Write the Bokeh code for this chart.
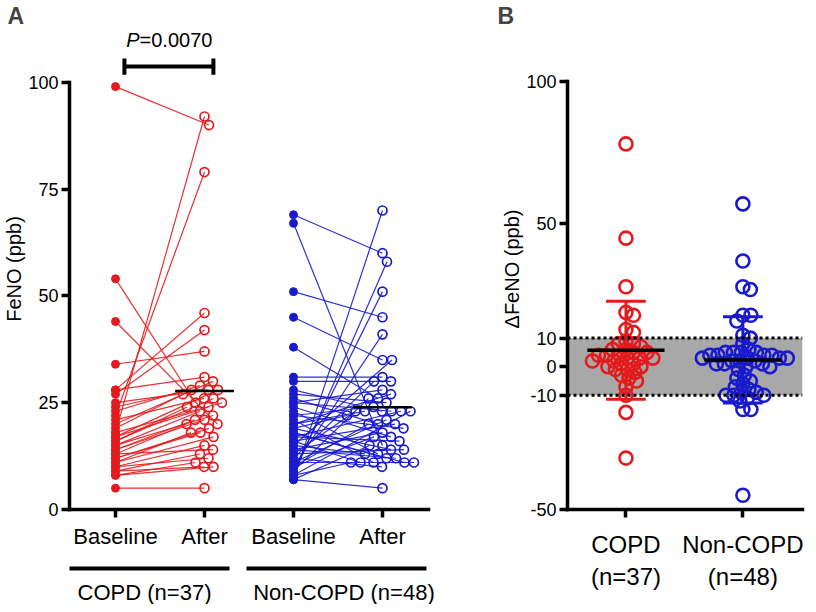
import numpy as np
from bokeh.plotting import figure
from bokeh.models import Range1d, FixedTicker, BoxAnnotation, Span
from bokeh.layouts import row, column
from bokeh.core.properties import value
from bokeh.embed import file_html
from bokeh.resources import INLINE

FONT = "Liberation Sans"
RED = "#e41a1c"
BLUE = "#1a1acd"

# ---------------- data ----------------
time_labels = ["Baseline", "After", "Baseline", "After"]
group_labels_A = ["COPD (n=37)", "Non-COPD (n=48)"]
copd_baseline = [99, 54, 44, 34, 28, 28, 27, 25, 24, 23, 22, 21, 20, 19, 18, 18, 17, 17, 16, 16,
                 15, 15, 14, 14, 13, 13, 12, 12, 11, 11, 10, 10, 9, 9, 8, 8, 5]
copd_after = [90, 25, 20, 37, 46, 31, 42, 28, 28, 29, 79, 26, 30, 27, 92, 25, 28, 24, 26, 24,
              23, 22, 21, 21, 14, 20, 19, 18, 18, 17, 12, 15, 10, 13, 10, 11, 5]
noncopd_baseline = [69, 67, 51, 45, 38, 31, 30, 28, 27, 26, 25, 25, 24, 23, 22, 22, 21, 20, 20, 19,
                    19, 18, 18, 17, 17, 16, 16, 15, 15, 14, 14, 13, 13, 12, 12, 11, 11, 10, 10, 10,
                    9, 9, 8, 8, 8, 7, 7, 7]
noncopd_after = [60, 15, 45, 35, 26, 31, 30, 23, 25, 20, 28, 23, 17, 13, 24, 19, 11, 27, 23, 14,
                 22, 11, 12, 23, 16, 20, 11, 35, 13, 18, 12, 23, 14, 30, 10, 21, 11, 41, 20, 17,
                 51, 26, 58, 23, 11, 70, 15, 5]
yticks_A = [0, 25, 50, 75, 100]
p_value_text = "=0.0070"

group_labels_B = ["COPD\n(n=37)", "Non-COPD\n(n=48)"]
copd_delta = [78, 45, 28, 19, 18, 13, 12, 9, 8, 8, 7, 6, 6, 5, 5, 4, 4, 4, 3, 3, 3, 2, 2, 1, 1,
              0, 0, -1, -1, -2, -3, -4, -5, -7, -10, -16, -32]
noncopd_delta = [57, 37, 28, 27, 18, 18, 16, 11, 10, 8, 6, 5, 5, 5, 5, 4, 4, 4, 4, 3, 3, 3, 3,
                 2, 2, 2, 1, 1, 1, 0, 0, -1, -3, -4, -5, -6, -7, -8, -9, -9, -10, -10, -10, -11,
                 -12, -15, -15, -45]
yticks_B = [-50, -10, 0, 10, 50, 100]
band_B = (-10, 10)

# ---------------- layout constants ----------------
FH = 481
FW_A = 359
XA = (0.483, 4.517)
YA = (0, 112.6)
FW_B = 235
XB = (0.5, 2.51)
YB = (-50, 118.4)
LB_A = 60
RB_A = 70
EXTRA_A2 = 14      # extra frame width on the right of the group-label strip

ppx_A = FW_A / (XA[1] - XA[0])
ppy_A = FH / (YA[1] - YA[0])
ppx_B = FW_B / (XB[1] - XB[0])
ppy_B = FH / (YB[1] - YB[0])


def swarm(vals, ppy, ppx, d):
    n = len(vals)
    order = sorted(range(n), key=lambda i: -vals[i])
    placed = []
    off = [0.0] * n
    cands = [0.0]
    for k in range(1, 400):
        cands += [k * 0.5, -k * 0.5]
    for i in order:
        y = vals[i] * ppy
        for c in cands:
            if all((c - px) ** 2 + (y - py) ** 2 >= d * d for px, py in placed):
                break
        placed.append((c, y))
        off[i] = c / ppx
    return off


def style_axis(ax, fs):
    ax.axis_line_width = 3.5
    ax.axis_line_cap = "square"
    ax.major_tick_line_width = 3.5
    ax.major_tick_out = 8
    ax.major_tick_in = 0
    ax.minor_tick_line_color = None
    ax.major_label_text_font = FONT
    ax.major_label_text_font_size = fs
    ax.major_label_text_color = "black"
    ax.axis_label_text_font = FONT
    ax.axis_label_text_font_style = "normal"
    ax.axis_label_text_font_size = "20px"
    ax.axis_label_text_color = "black"


def base_fig(fw, xr, yr, title=None, rb=0):
    p = figure(frame_width=fw, frame_height=FH, x_range=xr, y_range=yr,
               output_backend="svg", toolbar_location=None, title=title,
               min_border_top=5, min_border_bottom=0, min_border_left=0, min_border_right=rb)
    p.grid.visible = False
    p.outline_line_color = None
    p.background_fill_color = "white"
    p.border_fill_color = "white"
    if title:
        p.title.text_font = FONT
        p.title.text_font_size = "23px"
        p.title.text_font_style = "bold"
        p.title.align = "left"
        p.title.standoff = 0
    return p

# ---------------- panel A ----------------
pA = base_fig(FW_A, Range1d(*XA), Range1d(*YA), "A", RB_A)
pA.title.offset = -62
style_axis(pA.yaxis[0], "18px")
pA.yaxis.ticker = FixedTicker(ticks=yticks_A)
pA.yaxis.bounds = (0, 100)
pA.yaxis.axis_label = "FeNO (ppb)"
pA.yaxis.major_label_standoff = 3
pA.yaxis.axis_label_standoff = 0
style_axis(pA.xaxis[0], "22px")
pA.xaxis.ticker = FixedTicker(ticks=[1, 2, 3, 4])
pA.xaxis.major_label_overrides = {i + 1: t for i, t in enumerate(time_labels)}
pA.xaxis.major_label_standoff = 6


def draw_pairs(p, xb, xa, base, after, color):
    n = len(base)
    off = swarm(after, ppy_A, ppx_A, 9.5)
    xs = [xa + o for o in off]
    p.segment(x0=[xb] * n, y0=base, x1=xs, y1=after, line_color=color, line_width=1.2, line_alpha=0.9)
    p.scatter(xs, after, marker="circle", size=9, fill_color=None, line_color=color, line_width=1.7)
    p.scatter([xb] * n, base, marker="circle", size=8, fill_color=color, line_color=color)
    m = float(np.mean(after))
    p.segment(x0=[xa - 0.33], y0=[m], x1=[xa + 0.33], y1=[m], line_color="black", line_width=2.5)


draw_pairs(pA, 1, 2, copd_baseline, copd_after, RED)
draw_pairs(pA, 3, 4, noncopd_baseline, noncopd_after, BLUE)

# significance bracket
pA.segment(x0=[1.1, 1.1, 2.1], y0=[103.7, 101.8, 101.8], x1=[2.1, 1.1, 2.1], y1=[103.7, 105.6, 105.6],
           line_color="black", line_width=4)
pA.text(x=[1.27], y=[109.8], text=["P"], text_font=value(FONT), text_font_style="italic",
        text_font_size="20px", text_align="right", text_baseline="middle", text_color="black")
pA.text(x=[1.27], y=[109.8], text=[p_value_text], text_font=value(FONT),
        text_font_size="20px", text_align="left", text_baseline="middle", text_color="black")

# group bars and labels under panel A (frame aligned with panel A's frame, same x scale)
H2 = 53
pA2 = figure(frame_width=FW_A + EXTRA_A2, frame_height=H2,
             x_range=Range1d(XA[0], XA[1] + EXTRA_A2 / ppx_A), y_range=Range1d(0, 1),
             output_backend="svg", toolbar_location=None,
             x_axis_location=None, y_axis_location=None,
             min_border_top=0, min_border_bottom=0, min_border_left=LB_A,
             min_border_right=RB_A - EXTRA_A2)
pA2.grid.visible = False
pA2.outline_line_color = None
pA2.segment(x0=[0.371, 2.472], y0=[0.68, 0.68], x1=[2.281, 4.494], y1=[0.68, 0.68],
            line_color="black", line_width=4)
pA2.text(x=[1.326, 3.567], y=[0.22, 0.22], text=group_labels_A, text_font=value(FONT),
         text_font_size="22px", text_align="center", text_baseline="middle", text_color="black")

# ---------------- panel B ----------------
pB = base_fig(FW_B, Range1d(*XB), Range1d(*YB), "B", 4)
pB.title.offset = -70
style_axis(pB.yaxis[0], "18px")
pB.yaxis.ticker = FixedTicker(ticks=yticks_B)
pB.yaxis.major_label_overrides = {t: str(t) for t in yticks_B}
pB.yaxis.bounds = (-50, 100)
pB.yaxis.axis_label = "ΔFeNO (ppb)"
pB.yaxis.major_label_standoff = 3
pB.yaxis.axis_label_standoff = 0
style_axis(pB.xaxis[0], "24px")
pB.xaxis.ticker = FixedTicker(ticks=[1, 2])
pB.xaxis.major_label_overrides = {i + 1: t for i, t in enumerate(group_labels_B)}
pB.xaxis.major_label_standoff = 13

pB.add_layout(BoxAnnotation(bottom=band_B[0], top=band_B[1], fill_color="#a8a8a8", fill_alpha=1,
                            line_color=None, level="underlay"))
for loc in band_B:
    pB.add_layout(Span(location=loc, dimension="width", line_color="black", line_width=3,
                       line_dash="3 3"))


def draw_delta(p, xc, vals, color):
    off = swarm(vals, ppy_B, ppx_B, 8)
    xs = [xc + o for o in off]
    p.scatter(xs, vals, marker="circle", size=13, fill_color=None, line_color=color, line_width=2.6)
    m = float(np.mean(vals))
    sd = float(np.std(vals, ddof=1))
    p.segment(x0=[xc, xc - 0.17, xc - 0.17], y0=[m - sd, m + sd, m - sd],
              x1=[xc, xc + 0.17, xc + 0.17], y1=[m + sd, m + sd, m - sd],
              line_color=color, line_width=3)
    p.segment(x0=[xc - 0.33], y0=[m], x1=[xc + 0.33], y1=[m], line_color="black", line_width=3.5)


draw_delta(pB, 1, copd_delta, RED)
draw_delta(pB, 2, noncopd_delta, BLUE)

layout = row(column(pA, pA2, spacing=0), pB, spacing=0)
open("out.html", "w").write(file_html(layout, INLINE))
